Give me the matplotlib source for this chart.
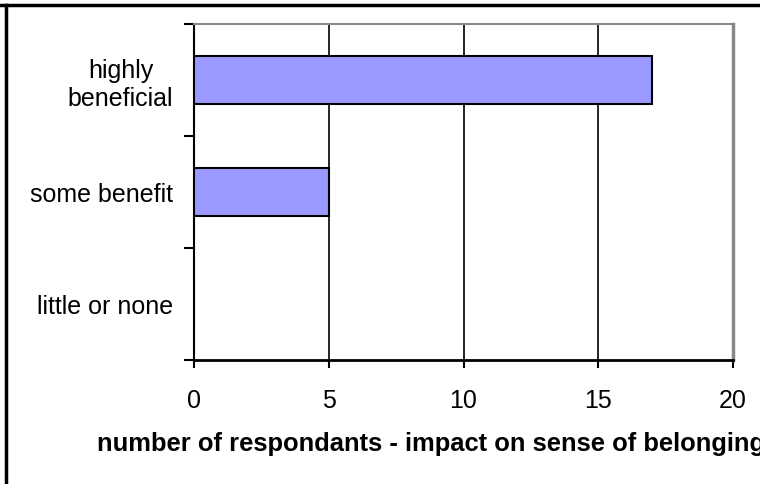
import matplotlib
matplotlib.use("Agg")
import matplotlib.pyplot as plt
from matplotlib.lines import Line2D

categories = ["little or none", "some benefit", "highly\nbeneficial"]
values = [0, 5, 17]
xticks = [0, 5, 10, 15, 20]
xlabel = "number of respondants - impact on sense of belonging"

plt.rcParams['font.family'] = ['Liberation Sans', 'DejaVu Sans']

W, H = 760, 485
fig = plt.figure(figsize=(W / 100, H / 100), dpi=100)
fig.patch.set_facecolor('white')

L, R, T, B = 194, 733, 25, 361
ax = fig.add_axes([L / W, 1 - B / H, (R - L) / W, (B - T) / H])

pos = list(range(len(categories)))
ax.barh(pos, values, height=0.42, color='#9999FF', edgecolor='black', linewidth=1.5, zorder=3)

ax.set_xlim(0, 20)
ax.set_ylim(-0.5, len(categories) - 0.5)
ax.set_xticks(xticks)
ax.set_xticklabels([str(t) for t in xticks], fontsize=18)
ax.xaxis.grid(True, color='black', linewidth=1.2, zorder=1)

ax.set_yticks(pos)
ax.set_yticklabels(categories, fontsize=18, multialignment='center')
ax.set_yticks([p - 0.5 for p in pos] + [len(categories) - 0.5], minor=True)
ax.tick_params(axis='y', which='major', length=0, pad=15)
ax.tick_params(axis='y', which='minor', length=7, width=1.5, direction='out', color='black')
ax.tick_params(axis='x', which='major', length=6, width=1.5, direction='out', pad=14, color='black')

for s in ['left', 'bottom']:
    ax.spines[s].set_color('black')
ax.spines['left'].set_linewidth(1.5)
ax.spines['bottom'].set_linewidth(2)
ax.spines['top'].set_color('#888888')
ax.spines['top'].set_linewidth(1.5)
ax.spines['right'].set_color('#888888')
ax.spines['right'].set_linewidth(2.5)

ax.set_xlabel(xlabel, fontsize=18.4, fontweight='bold', ha='left', va='center')
ax.xaxis.set_label_coords((97 - L) / (R - L), (B - 444) / (B - T))

# figure border (top and left)
fig.add_artist(Line2D([0, 1], [1 - 5.5 / H, 1 - 5.5 / H], transform=fig.transFigure, color='black', linewidth=2.5))
fig.add_artist(Line2D([5.5 / W, 5.5 / W], [0, 1 - 5.5 / H], transform=fig.transFigure, color='black', linewidth=2.5))

fig.savefig("out.png", dpi=100, facecolor='white')
